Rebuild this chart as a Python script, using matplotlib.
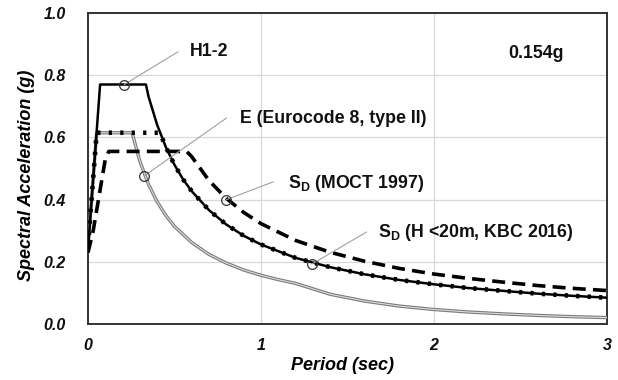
import matplotlib
matplotlib.use('agg')
import matplotlib.pyplot as plt

plt.rcParams['font.family'] = ['Liberation Sans', 'DejaVu Sans']
plt.rcParams['mathtext.fontset'] = 'custom'
plt.rcParams['mathtext.rm'] = 'Liberation Sans:bold'
plt.rcParams['mathtext.it'] = 'Liberation Sans:bold'
plt.rcParams['mathtext.bf'] = 'Liberation Sans:bold'

# spectra (period in s, Sa in g)
T_h12 = [0.0, 0.07, 0.335, 0.35, 0.40, 0.45, 0.50, 0.55, 0.60, 0.70, 0.80, 0.90, 1.0,
         1.2, 1.4, 1.6, 1.8, 2.0, 2.2, 2.4, 2.6, 2.8, 3.0]
sa_h12 = [0.24, 0.77, 0.77, 0.731, 0.640, 0.569, 0.512, 0.465, 0.427, 0.366, 0.320, 0.284, 0.256,
          0.213, 0.183, 0.160, 0.142, 0.128, 0.116, 0.107, 0.098, 0.091, 0.085]

T_kbc = [0.0, 0.05, 0.416, 0.45, 0.50, 0.55, 0.60, 0.70, 0.80, 0.90, 1.0,
         1.2, 1.4, 1.6, 1.8, 2.0, 2.2, 2.4, 2.6, 2.8, 3.0]
sa_kbc = [0.25, 0.615, 0.615, 0.569, 0.512, 0.465, 0.427, 0.366, 0.320, 0.284, 0.256,
          0.213, 0.183, 0.160, 0.142, 0.128, 0.116, 0.107, 0.098, 0.091, 0.085]

T_moct = [0.0, 0.03, 0.10, 0.12, 0.57, 0.60, 0.70, 0.80, 0.90, 1.0,
          1.2, 1.4, 1.6, 1.8, 2.0, 2.2, 2.4, 2.6, 2.8, 3.0]
sa_moct = [0.23, 0.30, 0.53, 0.555, 0.555, 0.538, 0.461, 0.404, 0.359, 0.323,
           0.269, 0.231, 0.202, 0.179, 0.161, 0.147, 0.135, 0.124, 0.115, 0.108]

T_ec8 = [0.0, 0.05, 0.255, 0.30, 0.35, 0.40, 0.45, 0.50, 0.60, 0.70, 0.80, 0.90, 1.0,
         1.1, 1.2, 1.4, 1.6, 1.8, 2.0, 2.2, 2.4, 2.6, 2.8, 3.0]
sa_ec8 = [0.25, 0.615, 0.615, 0.523, 0.449, 0.393, 0.349, 0.314, 0.262, 0.224, 0.196, 0.174, 0.157,
          0.143, 0.131, 0.096, 0.074, 0.058, 0.047, 0.039, 0.033, 0.028, 0.024, 0.021]

# callouts: circle on curve, end of leader line, label
labels = ['H1-2', 'E (Eurocode 8, type II)', r'S$_{\mathrm{D}}$ (MOCT 1997)',
          r'S$_{\mathrm{D}}$ (H <20m, KBC 2016)']
circle_T = [0.21, 0.324, 0.80, 1.295]
circle_sa = [0.77, 0.476, 0.40, 0.193]
leader_T = [0.52, 0.80, 1.07, 1.61]
leader_sa = [0.875, 0.662, 0.457, 0.296]
label_T = [0.59, 0.88, 1.156, 1.676]
label_sa = [0.875, 0.662, 0.453, 0.293]

pga_text = '0.154g'

fig = plt.figure(figsize=(6.18, 3.80), dpi=100)
ax = fig.add_axes([0.1424, 0.147, 0.8396, 0.819])

ax.plot(T_ec8, sa_ec8, color='#7a7a7a', lw=2.4, solid_capstyle='butt', zorder=3)
ax.plot(T_ec8, sa_ec8, color='#dddddd', lw=0.8, zorder=3.1)
ax.plot(T_moct, sa_moct, color='black', lw=2.6, dashes=(3.6, 2.0), zorder=4)
ax.plot(T_h12, sa_h12, color='black', lw=1.8, zorder=5)
ax.plot(T_kbc, sa_kbc, color='black', lw=3.3, dashes=(0.7, 1.8), zorder=6)

for i in range(len(labels)):
    ax.plot([circle_T[i], leader_T[i]], [circle_sa[i], leader_sa[i]],
            color='#a0a0a0', lw=0.8, zorder=7)
    ax.plot(circle_T[i], circle_sa[i], 'o', ms=7, mfc='none', mec='#333333', mew=0.9, zorder=8)
    ax.text(label_T[i], label_sa[i], labels[i], fontsize=12.8, fontweight='bold',
            ha='left', va='center', color='#111111', zorder=9)

ax.text(2.43, 0.871, pga_text, fontsize=12.8, fontweight='bold', ha='left', va='center',
        color='#111111')

ax.set_xlim(0, 3)
ax.set_ylim(0, 1.0)
ax.set_xticks([0, 1, 2, 3])
ax.set_xticklabels(['0', '1', '2', '3'])
ax.set_yticks([0.0, 0.2, 0.4, 0.6, 0.8, 1.0])
ax.set_yticklabels(['0.0', '0.2', '0.4', '0.6', '0.8', '1.0'])
ax.tick_params(length=0, labelsize=11.5, colors='#111111')
ax.tick_params(axis='y', pad=16)
ax.tick_params(axis='x', pad=10)
for lab in ax.get_xticklabels() + ax.get_yticklabels():
    lab.set_fontweight('bold')
    lab.set_fontstyle('italic')
ax.grid(True, color='#d9d9d9', lw=0.9)
ax.set_axisbelow(True)
for s in ax.spines.values():
    s.set_color('#333333')
    s.set_linewidth(1.4)

ax.set_xlabel('Period (sec)', fontsize=13, fontweight='bold', fontstyle='italic')
ax.set_ylabel('Spectral Acceleration (g)', fontsize=13, fontweight='bold', fontstyle='italic')
ax.xaxis.set_label_coords(0.491, -0.105)
ax.yaxis.set_label_coords(-0.102, 0.479)

fig.savefig('out.png', dpi=100)
